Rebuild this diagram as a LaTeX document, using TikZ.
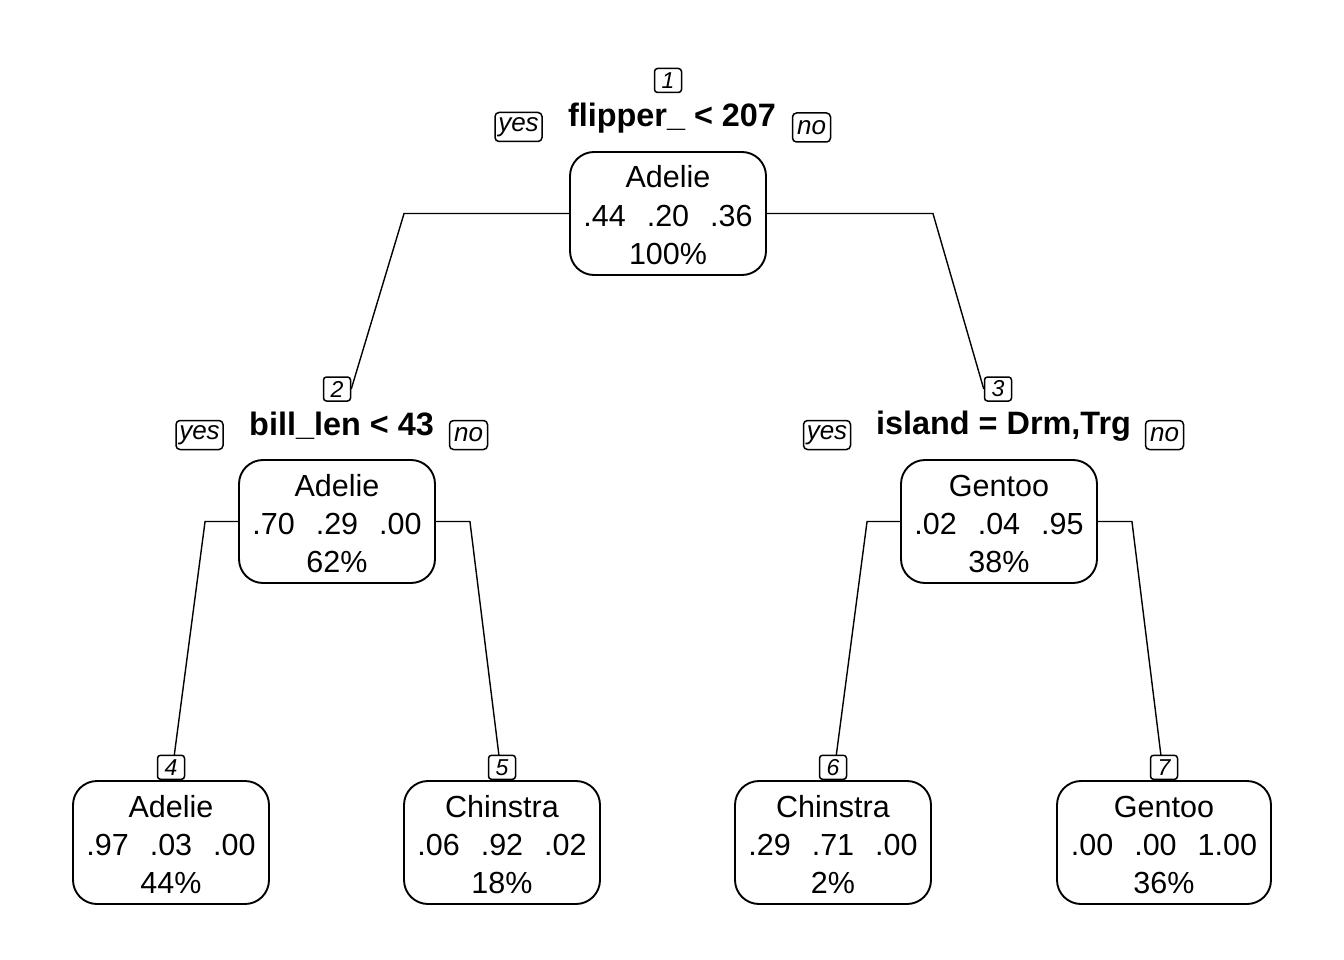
\documentclass[tikz,border=0pt]{standalone}
\usepackage{fontspec}
\setmainfont{Liberation Sans}
\usetikzlibrary{backgrounds}
\newcommand\gp{\hspace{21pt}}
\newcommand\treebox[7]{%
  \node[nbox, minimum width=#4pt] (#1) at (#2,#3+62.5) {};
  \node[ntext] (#1a) at (#2,#3+37) {#5};
  \node[ntext] (#1b) at (#2,#3+75.5) {#6};
  \node[ntext] (#1c) at (#2,#3+113) {#7};
}
\begin{document}
\begin{tikzpicture}[x=1pt,y=-1pt,
  nbox/.style={draw, line width=1.9pt, fill=white, rounded corners=24pt, minimum height=123pt, inner sep=0pt},
  ntext/.style={font=\fontsize{30.5}{36}\selectfont, inner sep=0pt, anchor=base},
  split/.style={font=\fontsize{32.4}{36}\selectfont\bfseries, inner sep=0pt, anchor=base},
  yn/.style={draw, line width=1.5pt, fill=white, rounded corners=4pt, font=\fontsize{26}{30}\selectfont\itshape, inner sep=0pt, minimum height=29pt},
  num/.style={draw, line width=1.5pt, fill=white, rounded corners=3pt, font=\fontsize{23}{26}\selectfont\itshape, inner sep=0pt, minimum width=27pt, minimum height=24pt},
  conn/.style={line width=1.4pt}]
\useasboundingbox (0,0) rectangle (1344,960);

\treebox{r}{668}{151}{196}{Adelie}{.44\gp.20\gp.36}{100\%}
\treebox{n2}{337}{459}{196}{Adelie}{.70\gp.29\gp.00}{62\%}
\treebox{n3}{999}{459}{196}{Gentoo}{.02\gp.04\gp.95}{38\%}
\treebox{l4}{171}{780}{196}{Adelie}{.97\gp.03\gp.00}{44\%}
\treebox{l5}{502}{780}{196}{Chinstra}{.06\gp.92\gp.02}{18\%}
\treebox{l6}{833}{780}{196}{Chinstra}{.29\gp.71\gp.00}{2\%}
\treebox{l7}{1164}{780}{214}{Gentoo}{.00\gp.00\gp1.00}{36\%}

\node[num] (rnum) at (668,80.5) {1};
\node[num] (n2num) at (337,389) {2};
\node[num] (n3num) at (998,389) {3};
\node[num, anchor=south] (l4num) at (l4.north) {4};
\node[num, anchor=south] (l5num) at (l5.north) {5};
\node[num, anchor=south] (l6num) at (l6.north) {6};
\node[num, anchor=south] (l7num) at (l7.north) {7};

\node[split] (rsplit) at (672,127) {flipper\_ < 207};
\node[split] (n2split) at (341.5,435) {bill\_len < 43};
\node[split] (n3split) at (1003.5,434) {island = Drm,Trg};

\node[yn, minimum width=47pt] (ryes) at (518.5,127) {yes};
\node[yn, minimum width=38pt] (rno) at (811.5,127.5) {no};
\node[yn, minimum width=47pt] (n2yes) at (199.5,435) {yes};
\node[yn, minimum width=38pt] (n2no) at (468.5,435) {no};
\node[yn, minimum width=47pt] (n3yes) at (827,435) {yes};
\node[yn, minimum width=38pt] (n3no) at (1164.5,435) {no};

\begin{scope}[on background layer]
\draw[conn] (r.west) -- ++(-165,0) -- (n2num.east);
\draw[conn] (r.east) -- ++(166,0) -- (n3num.west);
\draw[conn] (n2.west) -- ++(-33,0) -- (l4.north);
\draw[conn] (n2.east) -- ++(34,0) -- (l5.north);
\draw[conn] (n3.west) -- ++(-33,0) -- (l6.north);
\draw[conn] (n3.east) -- ++(34,0) -- (l7.north);
\end{scope}
\end{tikzpicture}
\end{document}
